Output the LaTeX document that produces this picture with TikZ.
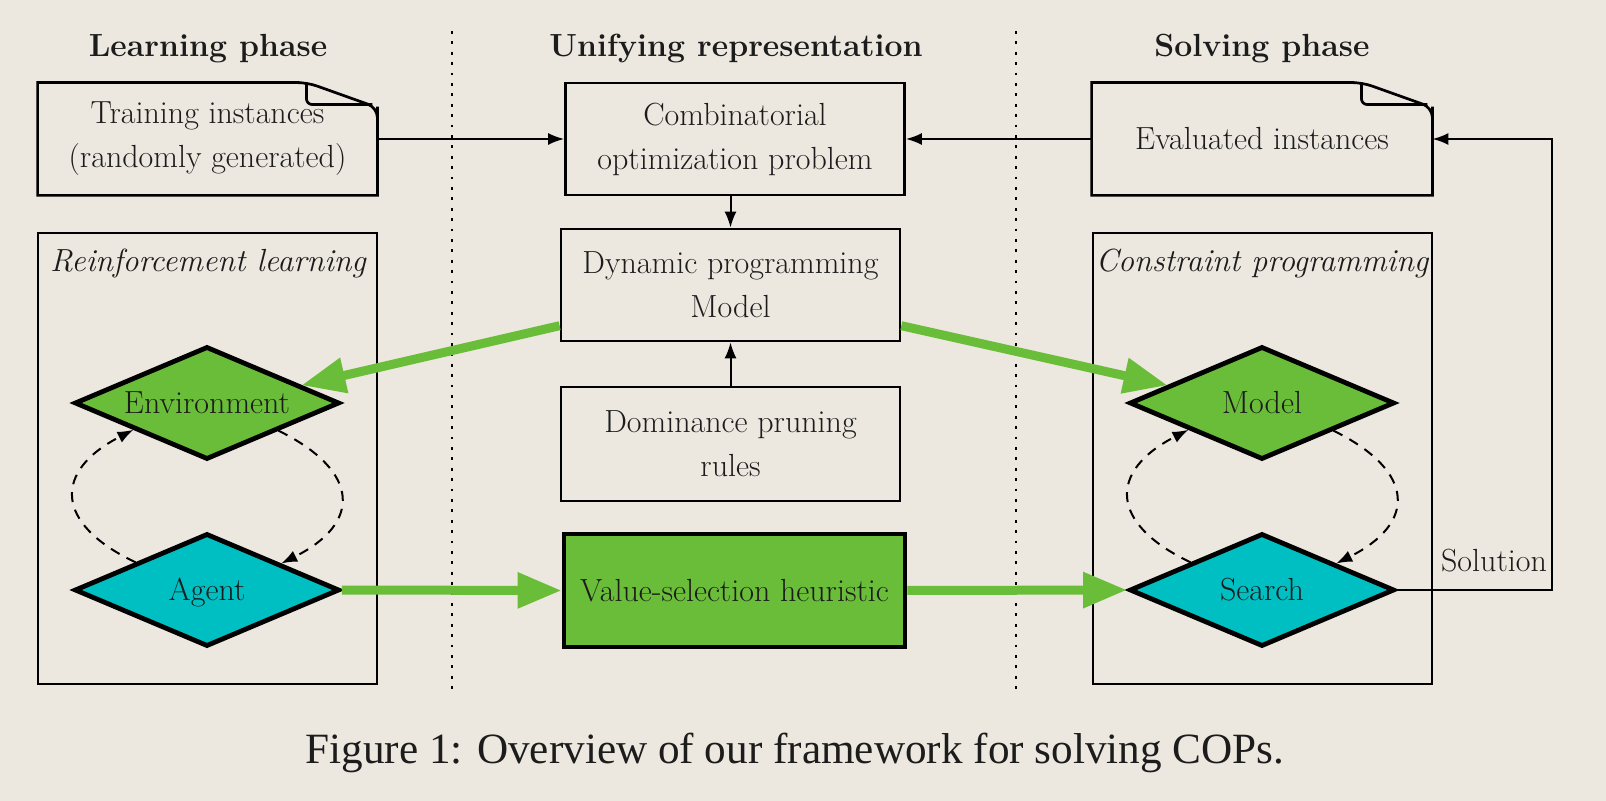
\documentclass[tikz,border=0pt]{standalone}
\usepackage{fontspec}
\newfontfamily\capfont{Liberation Serif}
\usetikzlibrary{arrows.meta,shapes.geometric,calc}
\definecolor{bg}{HTML}{ECE8E0}
\definecolor{grn}{HTML}{6ABD38}
\definecolor{cyn}{HTML}{00BFC2}
\definecolor{txt}{HTML}{1C1C1C}
\newcommand\dtext[1]{\makebox[0pt]{\raisebox{-0.33em}[0pt][0pt]{#1}}}
\begin{document}
\begin{tikzpicture}[x=0.5pt,y=-0.5pt,
  font=\fontsize{16}{22}\selectfont, text=txt,
  box/.style={draw, line width=1.35pt, minimum width=169.5pt, minimum height=56pt, align=center, inner sep=0pt},
  doc/.style={minimum width=169.5pt, minimum height=56pt, align=center, inner sep=0pt},
  docline/.style={line width=1.35pt},
  dia/.style={diamond, draw, line width=2.4pt, minimum width=132.5pt, minimum height=56.5pt, inner sep=0pt},
  cont/.style={draw, line width=0.6pt, minimum width=169.5pt, minimum height=225.5pt, inner sep=0pt},
  title/.style={font=\fontsize{16}{22}\selectfont\bfseries},
  clabel/.style={font=\fontsize{16}{22}\selectfont\itshape},
  blk/.style={-{Latex[length=8pt,width=6pt]}, line width=1pt},
  garr/.style={draw=grn, line width=4.5pt, -{Triangle[length=22pt,width=17pt]}},
  dasharr/.style={dash pattern=on 5pt off 4pt, line width=1pt, -{Latex[length=8pt,width=6pt]}},
  dotline/.style={line width=1.4pt, dash pattern=on 1.4pt off 3.8pt}
]
\fill[bg] (0,0) rectangle (1606,801);
\useasboundingbox (0,0) rectangle (1606,801);

% titles
\node[title] (t1) at (208,49) {Learning phase};
\node[title] (t2) at (736,49) {Unifying representation};
\node[title] (t3) at (1262,49) {Solving phase};

% dotted separators
\draw[dotline] (452,31) -- (452,693);
\draw[dotline] (1016,31) -- (1016,693);

% containers
\node[cont] (rl) at (207.5,458.5) {};
\node[cont] (cp) at (1262.5,458.5) {};
\node[clabel] (rllab) at (208,264) {Reinforcement learning};
\node[clabel] (cplab) at (1262,264) {Constraint programming};

% documents
\node[doc] (train) at (207.5,139) {Training instances\\(randomly generated)};
\node[doc] (eval) at (1262,139) [minimum width=170pt] {Evaluated instances};
\foreach \d in {train,eval}{
  \draw[docline] (\d.north west) -- ($(\d.north east)+(-78,0)$)
     [rounded corners=5pt] -- ($(\d.north east)+(-70,0)$) -- ($(\d.north east)+(0,25)$)
     -- ($(\d.north east)+(0,34)$) [sharp corners] -- (\d.south east) -- (\d.south west) -- cycle;
  \draw[docline] [rounded corners=3pt] ($(\d.north east)+(-71,0)$) -- ($(\d.north east)+(-71,22)$) -- ($(\d.north east)+(-5,22)$);
}

% central boxes
\node[box] (cop) at (735,139) {Combinatorial\\optimization problem};
\node[box] (dp) at (730.5,285) {Dynamic programming\\Model};
\node[box] (dom) at (730.5,444) [minimum height=57pt] {Dominance pruning\\rules};
\node[box, fill=grn, line width=2.4pt, minimum width=170.5pt, minimum height=56.5pt] (val) at (734.5,590.5) {Value-selection heuristic};

% diamonds
\node[dia, fill=grn] (env) at (207,403) {\dtext{Environment}};
\node[dia, fill=cyn] (agent) at (207,590) {\dtext{Agent}};
\node[dia, fill=grn] (model) at (1262,403) {\dtext{Model}};
\node[dia, fill=cyn] (search) at (1262,590) {\dtext{Search}};

% black arrows
\draw[blk] (train.east) -- (cop.west);
\draw[blk] (eval.west) -- (cop.east);
\draw[blk] (dp.north |- cop.south) -- (dp.north);
\draw[blk] (dom.north) -- (dp.south);
\coordinate (solc) at (1552,590);
\draw[blk] (search.east) -- (solc) |- (eval.east);
\node (sol) at (1494,561) {Solution};

% green arrows
\draw[garr] ($(dp.west)!0.71!(dp.south west)$) -- ($(env.north)!0.70!(env.east)$);
\draw[garr] ($(dp.east)!0.71!(dp.south east)$) -- ($(model.north)!0.70!(model.west)$);
\draw[garr] (agent.east) -- (val.west);
\draw[garr] (val.east) -- (search.west);

% dashed loops
\foreach \a/\b in {env/agent, model/search}{
  \draw[dasharr] ($(\a.east)!0.47!(\a.south)$) .. controls +(83,41) and +(80,-40) .. ($(\b.north)!0.55!(\b.east)$);
  \draw[dasharr] ($(\b.north)!0.53!(\b.west)$) .. controls +(-82,-39) and +(-80,41) .. ($(\a.south)!0.545!(\a.west)$);
}

% caption
\node[font=\capfont\fontsize{21.6}{25}\selectfont] (cap) at (795,753) {Figure 1: Overview of our framework for solving COPs.};
\end{tikzpicture}
\end{document}
